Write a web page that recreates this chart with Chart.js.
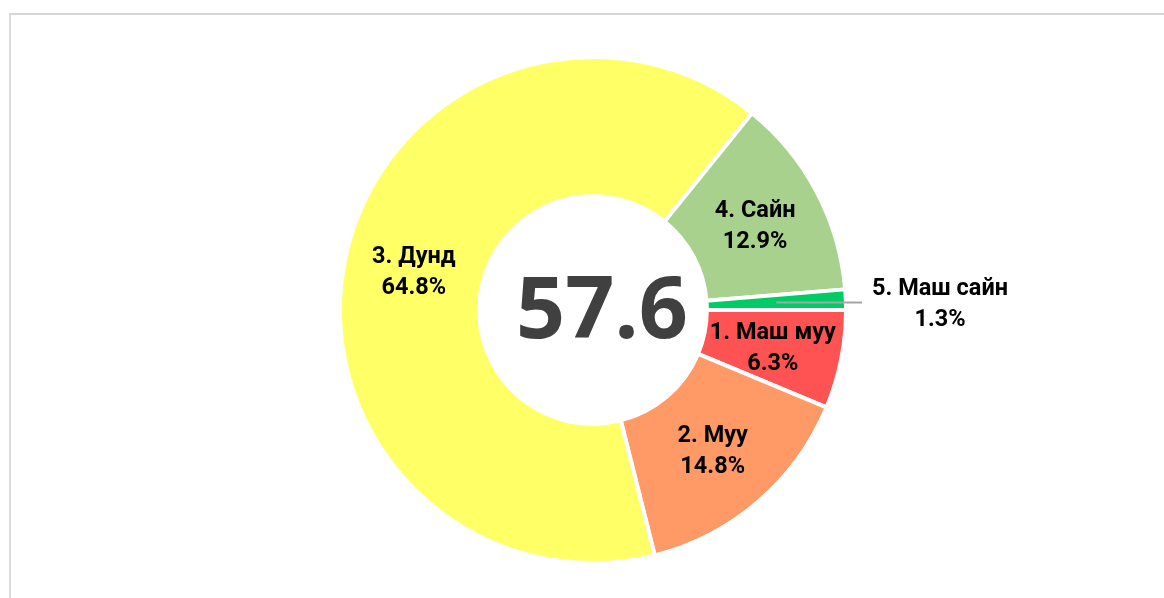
<!DOCTYPE html>
<html>
<head>
<meta charset="utf-8">
<script src="https://cdn.jsdelivr.net/npm/chart.js@4/dist/chart.umd.min.js"></script>
<style>
  html, body { margin: 0; padding: 0; background: #fff; overflow: hidden; }
  #frame { position: absolute; left: 9px; top: 13px; width: 1300px; height: 700px;
           border-left: 2px solid #dcdcdc; border-top: 2px solid #d6d6d6; }
  #wrap { position: absolute; left: 0; top: 0; width: 1164px; height: 598px; }
</style>
</head>
<body>
<div id="frame"></div>
<div id="wrap"><canvas id="score-graph"></canvas></div>
<script>
const categories = ["1. Маш муу", "2. Муу", "3. Дунд", "4. Сайн", "5. Маш сайн"]
const shares = [6.3, 14.8, 64.8, 12.9, 1.3]
const sliceColors = ["#FF5252", "#FF9966", "#FFFF66", "#A9D18E", "#00CC66"]
const centerScore = "57.6"

const scoreCanvas = document.getElementById("score-graph")

// labels drawn by hand, no datalabels plugin here
const sliceLabels = {
    id: "sliceLabels",
    afterDraw(chart) {
        const ctx = chart.ctx
        const arcs = chart.getDatasetMeta(0).data
        ctx.save()
        ctx.textAlign = "center"
        ctx.textBaseline = "middle"
        ctx.font = "bold 23.5px Roboto"
        arcs.forEach((arc, i) => {
            const mid = (arc.startAngle + arc.endAngle) / 2
            const r = (arc.innerRadius + arc.outerRadius) / 2
            let x = arc.x + Math.cos(mid) * r
            let y = arc.y + Math.sin(mid) * r + 2
            const text = [categories[i], shares[i].toFixed(1) + "%"]
            if (shares[i] < 3) {
                // too small, put it outside with a leader line
                const endX = arc.x + arc.outerRadius + 16
                ctx.strokeStyle = "#a6a6a6"
                ctx.lineWidth = 2
                ctx.beginPath()
                ctx.moveTo(x, y - 2)
                ctx.lineTo(endX, y - 2)
                ctx.stroke()
                const w = ctx.measureText(text[0]).width
                x = endX + 10 + w / 2
            }
            ctx.fillStyle = "#000"
            ctx.fillText(text[0], x, y - 15)
            ctx.fillText(text[1], x, y + 16)
        })
        const a = arcs[0]
        ctx.fillStyle = "#404040"
        ctx.font = "bold 86px 'Open Sans'"
        ctx.fillText(centerScore, a.x + 9, a.y + 3)
        ctx.restore()
    }
}

const data = {
    labels: categories,
    datasets: [{
        data: shares,
        backgroundColor: sliceColors,
        borderColor: "#fff",
        borderWidth: 4,
        hoverOffset: 0
    }]
}

const config = {
    type: "doughnut",
    data: data,
    options: {
        responsive: true,
        maintainAspectRatio: false,
        animation: false,
        rotation: 90,
        cutout: "45%",
        layout: { padding: { left: 338, right: 316, top: 55, bottom: 33 } },
        plugins: {
            legend: { display: false },
            tooltip: { enabled: false }
        }
    },
    plugins: [sliceLabels]
}

new Chart(scoreCanvas, config)
</script>
</body>
</html>
